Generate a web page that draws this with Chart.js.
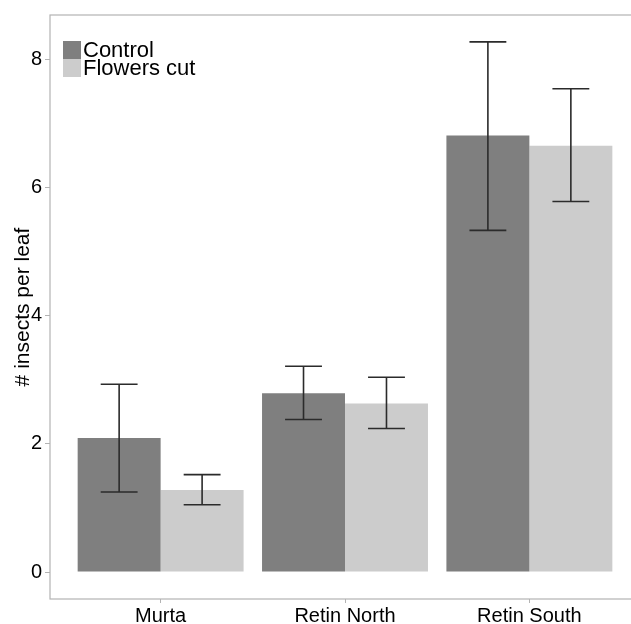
<!DOCTYPE html>
<html>
<head>
<meta charset="utf-8">
<script src="https://cdn.jsdelivr.net/npm/chart.js@4.4.1/dist/chart.umd.min.js"></script>
<style>
  html, body { margin: 0; padding: 0; background: #fff; overflow: hidden; }
  #wrap { width: 660px; height: 624px; }
</style>
</head>
<body>
<div id="wrap"><canvas id="chart" width="660" height="624"></canvas></div>
<script>
// data
const sites = ['Murta', 'Retin North', 'Retin South'];
const seriesNames = ['Control', 'Flowers cut'];
const controlMean = [2.09, 2.79, 6.81];
const controlLow = [1.25, 2.38, 5.33];
const controlHigh = [2.93, 3.21, 8.27];
const cutMean = [1.28, 2.63, 6.65];
const cutLow = [1.05, 2.24, 5.78];
const cutHigh = [1.52, 3.04, 7.54];
const yTicks = [0, 2, 4, 6, 8];

const fontFam = '"Liberation Sans", Arial, Helvetica, sans-serif';
const axisGrey = '#b3b3b3';

const xPos = sites.map((s, i) => i + 1);

// error bars + panel border + legend inside plot
const extras = {
    id: 'extras',
    afterDatasetsDraw(chart) {
        const ctx = chart.ctx;
        const y = chart.scales.y;
        const x = chart.scales.x;
        const capHalf = (x.getPixelForValue(1.1) - x.getPixelForValue(1));
        ctx.save();
        ctx.strokeStyle = '#2b2b2b';
        ctx.lineWidth = 1.6;
        const sets = [[controlLow, controlHigh], [cutLow, cutHigh]];
        sets.forEach((pair, di) => {
            const meta = chart.getDatasetMeta(di);
            meta.data.forEach((bar, i) => {
                const cx = bar.x;
                const yl = y.getPixelForValue(pair[0][i]);
                const yh = y.getPixelForValue(pair[1][i]);
                ctx.beginPath();
                ctx.moveTo(cx, yl); ctx.lineTo(cx, yh);
                ctx.moveTo(cx - capHalf, yl); ctx.lineTo(cx + capHalf, yl);
                ctx.moveTo(cx - capHalf, yh); ctx.lineTo(cx + capHalf, yh);
                ctx.stroke();
            });
        });
        ctx.restore();
    },
    afterDraw(chart) {
        const ctx = chart.ctx;
        const a = chart.chartArea;
        ctx.save();
        ctx.strokeStyle = axisGrey;
        ctx.lineWidth = 1.2;
        ctx.strokeRect(a.left, a.top, a.right - a.left, a.bottom - a.top);

        // legend
        const box = 18;
        let lx = a.left + 13, ly = a.top + 26;
        ctx.font = '22px ' + fontFam;
        ctx.textBaseline = 'middle';
        chart.data.datasets.forEach((ds, i) => {
            ctx.fillStyle = ds.backgroundColor;
            ctx.fillRect(lx, ly + i * box, box, box);
            ctx.fillStyle = '#000';
            ctx.fillText(ds.label, lx + box + 2, ly + i * box + box / 2 + 1);
        });
        ctx.restore();
    }
};

new Chart(document.getElementById('chart'), {
    type: 'bar',
    data: {
        datasets: [
            {
                label: seriesNames[0],
                data: xPos.map((p, i) => ({ x: p, y: controlMean[i] })),
                backgroundColor: '#7f7f7f',
                borderWidth: 0,
                categoryPercentage: 0.9,
                barPercentage: 1.0
            },
            {
                label: seriesNames[1],
                data: xPos.map((p, i) => ({ x: p, y: cutMean[i] })),
                backgroundColor: '#cccccc',
                borderWidth: 0,
                categoryPercentage: 0.9,
                barPercentage: 1.0
            }
        ]
    },
    options: {
        responsive: false,
        animation: false,
        layout: { padding: { top: 14, right: 20, left: 0, bottom: 0 } },
        plugins: {
            legend: { display: false },
            tooltip: { enabled: false }
        },
        scales: {
            x: {
                type: 'linear',
                min: 0.4,
                max: 3.6,
                offset: false,
                grid: { display: true, offset: false, drawOnChartArea: false, drawTicks: true, tickLength: 4, color: axisGrey },
                border: { display: false },
                afterBuildTicks: s => { s.ticks = xPos.map(v => ({ value: v })); },
                afterFit: s => { s.height = 25; },
                ticks: {
                    color: '#000',
                    padding: 1,
                    maxRotation: 0,
                    font: { family: fontFam, size: 20 },
                    callback: v => sites[v - 1]
                }
            },
            y: {
                min: -0.42,
                max: 8.69,
                grid: { display: true, drawOnChartArea: false, drawTicks: true, tickLength: 5, color: axisGrey },
                border: { display: false },
                afterBuildTicks: s => { s.ticks = yTicks.map(v => ({ value: v })); },
                afterFit: s => { s.width = 50; },
                ticks: {
                    color: '#000',
                    padding: 3,
                    font: { family: fontFam, size: 20 }
                },
                title: {
                    display: true,
                    text: '# insects per leaf',
                    color: '#000',
                    padding: { top: 11, bottom: 0 },
                    font: { family: fontFam, size: 21 }
                }
            }
        }
    },
    plugins: [extras]
});
</script>
</body>
</html>
